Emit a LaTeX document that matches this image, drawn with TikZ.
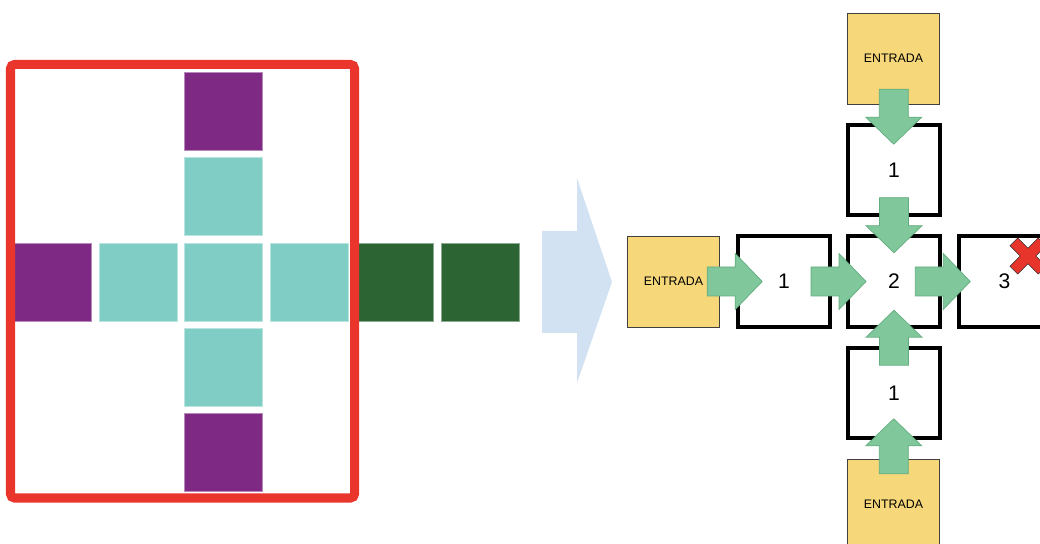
\documentclass[tikz,border=0pt]{standalone}
\usepackage{fontspec}
\setmainfont{Liberation Sans}
\usepackage{xcolor}
\usepackage{tikz}
\usetikzlibrary{arrows.meta, positioning, calc}

\definecolor{framered}{HTML}{E9352B}
\definecolor{plum}{HTML}{7E2A84}
\definecolor{aqua}{HTML}{7FCDC4}
\definecolor{forest}{HTML}{2D6433}
\definecolor{sky}{HTML}{D2E2F3}
\definecolor{entradafill}{HTML}{F6D87A}
\definecolor{flowgreen}{HTML}{80C79B}
\definecolor{flowedge}{HTML}{62AD7E}
\definecolor{xred}{HTML}{E8352B}

\begin{document}
\begin{tikzpicture}[
  x=0.025cm, y=-0.025cm,
  cell/.style={rectangle, inner sep=0pt, minimum size=1.95cm, fill=#1, draw=#1!55!white, line width=0.5pt},
  entrada/.style={rectangle, inner sep=0pt, minimum width=2.3cm, minimum height=2.275cm,
    fill=entradafill, draw=black!75, line width=0.6pt, font=\fontsize{8.8}{10}\selectfont},
  stepbox/.style={rectangle, inner sep=0pt, minimum width=2.275cm, minimum height=2.25cm,
    fill=white, draw=black, line width=0.1cm, font=\fontsize{15}{18}\selectfont},
  flow/.pic={
    \draw[fill=flowgreen, draw=flowedge, line width=0.5pt]
      (-28,-14.5) -- (0,-14.5) -- (0,-28) -- (27,0) -- (0,28) -- (0,14.5) -- (-28,14.5) -- cycle;
  },
  cross/.pic={
    \draw[fill=xred, draw=black!80, line width=0.4pt, rotate=45]
      (5.5,5.5) -- (20,5.5) -- (20,-5.5) -- (5.5,-5.5) -- (5.5,-20) -- (-5.5,-20)
      -- (-5.5,-5.5) -- (-20,-5.5) -- (-20,5.5) -- (-5.5,5.5) -- (-5.5,20) -- (5.5,20) -- cycle;
  }
]
  \useasboundingbox (0,0) rectangle (1040,544);
  \clip (0,0) rectangle (1040,544);

  % grid of cells
  \node[cell=plum] (pN) at (223.5,111) {};
  \node[cell=aqua] (aN) at (223.5,196.5) {};
  \node[cell=plum] (pW) at (52.5,282) {};
  \node[cell=aqua] (aW) at (138,282) {};
  \node[cell=aqua] (aC) at (223.5,282) {};
  \node[cell=aqua] (aE) at (309,282) {};
  \node[cell=forest] (gE1) at (394.5,282) {};
  \node[cell=forest] (gE2) at (480,282) {};
  \node[cell=aqua] (aS) at (223.5,367.5) {};
  \node[cell=plum] (pS) at (223.5,452) {};

  \draw[framered, line width=0.225cm, rounded corners=0.1cm] (10.5,64.5) rectangle (354.5,498);

  % big arrow in between
  \fill[sky] (542,231) -- (577,231) -- (577,178) -- (612,282) -- (577,383) -- (577,333) -- (542,333) -- cycle;

  \node[entrada] (eN) at (893.5,58.5) {ENTRADA};
  \node[stepbox] (sN) at (894,170) {1};
  \node[entrada] (eW) at (673.5,281.5) {ENTRADA};
  \node[stepbox] (sW) at (784,281.5) {1};
  \node[stepbox] (sC) at (894,281.5) {2};
  \node[stepbox] (sE) at (1004.5,281.5) {3};
  \node[stepbox] (sS) at (894,393) {1};
  \node[entrada] (eS) at (893.5,504.5) {ENTRADA};

  \pic[rotate=-90] at ($(eN.south)!.5!(sN.north)+(0,3.5)$) {flow};
  \pic[rotate=-90] at ($(sN.south)!.5!(sC.north)$) {flow};
  \pic at ($(eW.east)!.5!(sW.west)+(7,0)$) {flow};
  \pic at ($(sW.east)!.5!(sC.west)$) {flow};
  \pic at ($(sC.east)!.5!(sE.west)+(-6,0)$) {flow};
  \pic[rotate=90] at ($(sC.south)!.5!(sS.north)$) {flow};
  \pic[rotate=90] at ($(sS.south)!.5!(eS.north)+(0,-3.5)$) {flow};

  \pic at ($(sE.center)+(23.5,-25.5)$) {cross};
\end{tikzpicture}
\end{document}
